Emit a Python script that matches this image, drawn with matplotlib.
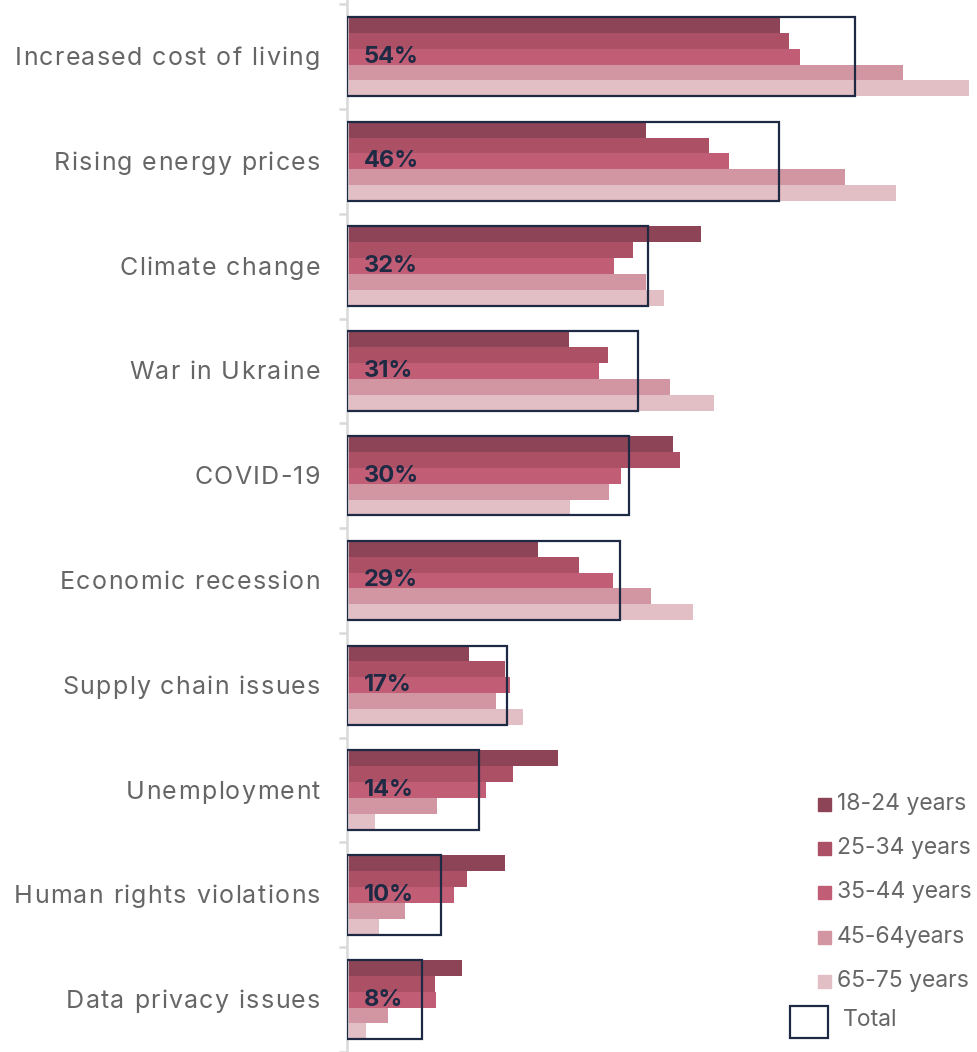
import matplotlib
matplotlib.use("Agg")
import matplotlib.pyplot as plt
from matplotlib.patches import Rectangle
from matplotlib.font_manager import FontProperties
from matplotlib.textpath import TextToPath
import numpy as np

plt.rcParams['font.family'] = ['Inter', 'DejaVu Sans']

categories = ['Increased cost of living', 'Rising energy prices', 'Climate change',
              'War in Ukraine', 'COVID-19', 'Economic recession', 'Supply chain issues',
              'Unemployment', 'Human rights violations', 'Data privacy issues']
age_groups = ['18-24 years', '25-34 years', '35-44 years', '45-64years', '65-75 years']

age_18_24 = [46.1, 31.8, 37.7, 23.6, 34.7, 20.3, 13.0, 22.4, 16.8, 12.2]
age_25_34 = [47.0, 38.5, 30.4, 27.8, 35.4, 24.7, 16.8, 17.7, 12.8, 9.4]
age_35_44 = [48.2, 40.6, 28.4, 26.8, 29.1, 28.3, 17.3, 14.8, 11.4, 9.5]
age_45_64 = [59.1, 53.0, 31.8, 34.4, 27.9, 32.3, 15.8, 9.6, 6.2, 4.4]
age_65_75 = [66.2, 58.4, 33.7, 39.0, 23.7, 36.8, 18.7, 3.0, 3.4, 2.0]
total = [54, 46, 32, 31, 30, 29, 17, 14, 10, 8]

series = [age_18_24, age_25_34, age_35_44, age_45_64, age_65_75]
colors = ['#8E4457', '#AC5066', '#C15D74', '#D295A2', '#E2BEC5']
navy = '#1E2A44'
grey_text = '#666666'

W, H = 978, 1052
PT = 72 / 100  # points per pixel at dpi 100
t2p = TextToPath()


def text_width(s, prop):
    if not s.strip():
        return 0.0
    return t2p.get_text_width_height_descent(s, prop, ismath=False)[0]


def spaced_label(ax, s, y, right_px, size, track_px, color, base_px):
    # draws s char by char with extra letter spacing, right aligned at right_px
    prop = FontProperties(family='Inter', size=size)
    full = text_width(s, prop) + (len(s) - 1) * track_px * PT
    x0 = right_px * PT - full
    for k, ch in enumerate(s):
        if ch == ' ':
            continue
        xk = text_width(s[:k + 1], prop) - text_width(ch, prop) + k * track_px * PT
        ax.annotate(ch, xy=(0, y), xycoords=('axes fraction', 'data'),
                    xytext=(x0 + xk, -base_px * PT), textcoords='offset points',
                    ha='left', va='baseline', fontproperties=prop, color=color)


fig = plt.figure(figsize=(W / 100, H / 100), dpi=100)

# axes fills the full height; category i is centred at 57 + 105.5*i px
pitch = 105.5
top_c = 57
ax = fig.add_axes([347 / W, 0, 1 - 347 / W, 1])
ax.set_ylim((H - top_c) / pitch, -top_c / pitch)
ax.set_xlim(0, (W - 347) / 9.4)

y = np.arange(len(categories))
group_h = 80 / pitch
bar_h = group_h / 5

for k, (vals, c) in enumerate(zip(series, colors)):
    ax.barh(y - group_h / 2 + bar_h * (k + 0.5), vals, height=bar_h, color=c,
            linewidth=0, zorder=2)

ax.barh(y, total, height=group_h, fill=False, edgecolor=navy, linewidth=1.6, zorder=3)

for i, t in enumerate(total):
    ax.text(1.8, i, f'{t}%', va='center', ha='left', fontsize=17, fontweight='bold',
            color=navy, zorder=4)

# axis: light grey spine, ticks between groups
for s in ['top', 'right', 'bottom']:
    ax.spines[s].set_visible(False)
ax.spines['left'].set_color('#D9D9D9')
ax.spines['left'].set_linewidth(1.8)
ax.set_xticks([])
ax.set_yticks(np.arange(len(categories) + 1) - 0.5)
ax.set_yticklabels([])
ax.tick_params(axis='y', which='major', length=6, width=1.8, color='#D9D9D9')

for i, name in enumerate(categories):
    spaced_label(ax, name, i, -27, 18, 1.3, grey_text, 8.5)

# legend drawn by hand in pixel positions
legend_y = [804, 848, 892, 937, 981]
for lbl, c, ly in zip(age_groups, colors, legend_y):
    fig.patches.append(Rectangle((818 / W, 1 - (ly + 6.5) / H), 13 / W, 13 / H,
                                 transform=fig.transFigure, color=c))
    fig.text(837 / W, 1 - ly / H, lbl, fontsize=16.5, color=grey_text, va='center', ha='left')
fig.patches.append(Rectangle((790 / W, 1 - 1038 / H), 38 / W, 32 / H, transform=fig.transFigure,
                             facecolor='white', edgecolor=navy, linewidth=1.6))
fig.text(843 / W, 1 - 1020 / H, 'Total', fontsize=16.5, color=grey_text, va='center', ha='left')

fig.savefig('out.png', dpi=100)
